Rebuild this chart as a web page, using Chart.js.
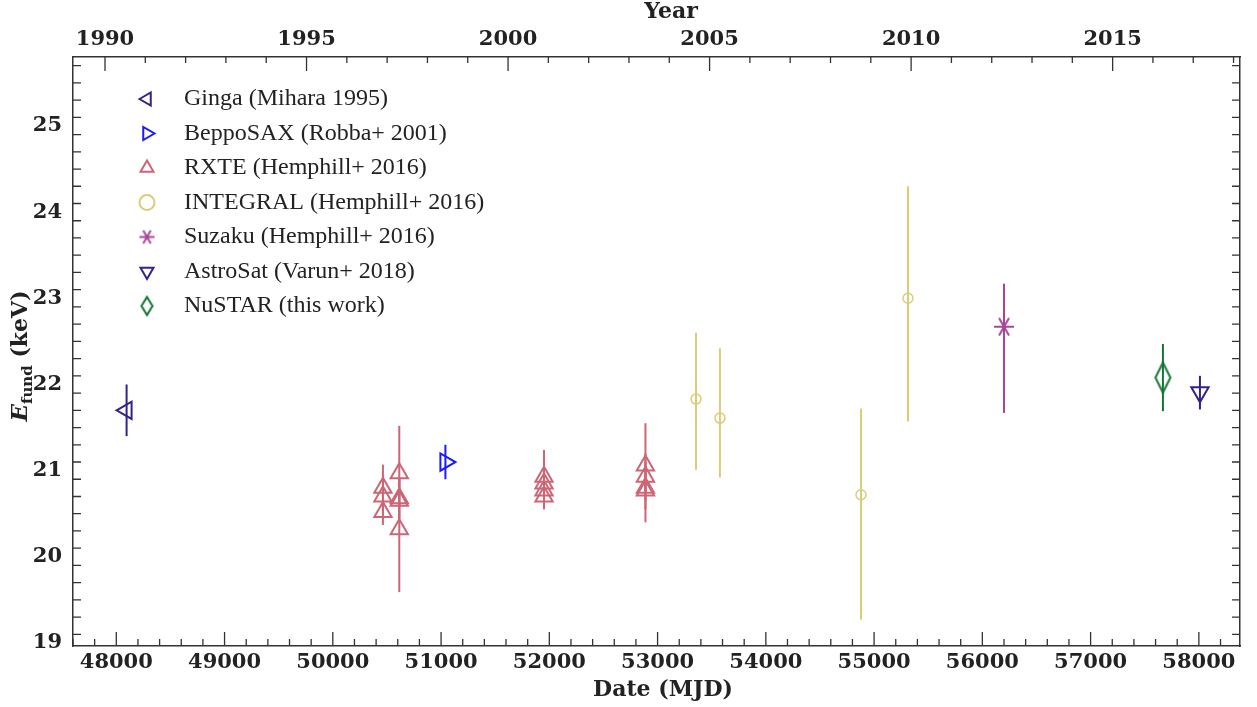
<!DOCTYPE html>
<html>
<head>
<meta charset="utf-8">
<title>Cyclotron line energy vs time</title>
<script src="https://cdn.jsdelivr.net/npm/chart.js@4.4.1/dist/chart.umd.min.js"></script>
<style>
  html, body { margin: 0; padding: 0; background: #fff; }
  canvas { display: block; }
</style>
</head>
<body>
<canvas id="efundChart" width="1257" height="707"></canvas>
<script>
// Values: MJD, E_fund (keV), lower / upper end of the error bar (keV)
const gingaMjd = [48095];
const gingaE   = [21.70];
const gingaLo  = [21.40];
const gingaHi  = [22.00];

const beppoMjd = [51040];
const beppoE   = [21.10];
const beppoLo  = [20.90];
const beppoHi  = [21.30];

const rxteMjd = [50463, 50463, 50463, 50614, 50614, 50614, 50614, 51951, 51951, 51951, 51951, 52888, 52888, 52888, 52888];
const rxteE   = [20.80, 20.70, 20.52, 20.97, 20.68, 20.65, 20.32, 20.93, 20.85, 20.77, 20.70, 21.06, 20.93, 20.80, 20.77];
const rxteLo  = [20.55, 20.50, 20.37, 20.60, 20.45, 20.40, 19.59, 20.70, 20.65, 20.58, 20.55, 20.75, 20.65, 20.55, 20.40];
const rxteHi  = [21.07, 20.90, 20.67, 21.52, 20.91, 20.90, 20.90, 21.24, 21.05, 20.96, 20.85, 21.55, 21.20, 21.05, 21.10];

const integralMjd = [53355, 53576, 54879, 55313];
const integralE   = [21.83, 21.61, 20.72, 23.00];
const integralLo  = [21.01, 20.92, 19.27, 21.57];
const integralHi  = [22.60, 22.42, 21.72, 24.30];

const suzakuMjd = [56200];
const suzakuE   = [22.67];
const suzakuLo  = [21.67];
const suzakuHi  = [23.17];

const astrosatMjd = [58010];
const astrosatE   = [21.91];
const astrosatLo  = [21.71];
const astrosatHi  = [22.10];

const nustarMjd = [57668];
const nustarE   = [22.08];
const nustarLo  = [21.69];
const nustarHi  = [22.47];

const seriesLabels = [
    'Ginga (Mihara 1995)',
    'BeppoSAX (Robba+ 2001)',
    'RXTE (Hemphill+ 2016)',
    'INTEGRAL (Hemphill+ 2016)',
    'Suzaku (Hemphill+ 2016)',
    'AstroSat (Varun+ 2018)',
    'NuSTAR (this work)'
];

// axis ticks
const mjdTicks = [48000, 49000, 50000, 51000, 52000, 53000, 54000, 55000, 56000, 57000, 58000];
const yearTicks = [1990, 1995, 2000, 2005, 2010, 2015];
const energyTicks = [19, 20, 21, 22, 23, 24, 25];

const MJD_MIN = 47600, MJD_MAX = 58380;
const E_MIN = 18.965, E_MAX = 25.8;
// the top (year) axis
const YEAR_MIN = 1989.206, YEAR_MAX = 2018.16;

const colors = {
    ginga: '#332288',
    beppo: '#1a1aff',
    rxte: '#cc6677',
    integral: '#ddcc77',
    suzaku: '#aa4499',
    astrosat: '#332288',
    nustar: '#117733'
};

function makePoints(mjd, e, lo, hi) {
    return mjd.map((m, i) => ({ x: m, y: e[i], lo: lo[i], hi: hi[i] }));
}

// custom marker shapes
function diamondMarker(w, h, color) {
    const c = document.createElement('canvas');
    c.width = w + 4; c.height = h + 4;
    const g = c.getContext('2d');
    g.strokeStyle = color; g.lineWidth = 2;
    g.beginPath();
    g.moveTo(c.width / 2, 2);
    g.lineTo(c.width - 2, c.height / 2);
    g.lineTo(c.width / 2, c.height - 2);
    g.lineTo(2, c.height / 2);
    g.closePath();
    g.stroke();
    return c;
}

function asteriskMarker(r, color) {
    const c = document.createElement('canvas');
    c.width = c.height = 2 * r + 4;
    const g = c.getContext('2d');
    const m = c.width / 2;
    g.strokeStyle = color; g.lineWidth = 2;
    g.beginPath();
    for (let k = 0; k < 3; k++) {
        const a = k * Math.PI / 3;
        g.moveTo(m - r * Math.cos(a), m - r * Math.sin(a));
        g.lineTo(m + r * Math.cos(a), m + r * Math.sin(a));
    }
    g.stroke();
    return c;
}

const datasets = [
    {
        label: seriesLabels[0], data: makePoints(gingaMjd, gingaE, gingaLo, gingaHi),
        borderColor: colors.ginga, pointStyle: 'triangle', pointRotation: -90, pointRadius: 10,
        legendStyle: 'triangle', legendRadius: 7.5
    },
    {
        label: seriesLabels[1], data: makePoints(beppoMjd, beppoE, beppoLo, beppoHi),
        borderColor: colors.beppo, pointStyle: 'triangle', pointRotation: 90, pointRadius: 10,
        legendStyle: 'triangle', legendRadius: 7.5
    },
    {
        label: seriesLabels[2], data: makePoints(rxteMjd, rxteE, rxteLo, rxteHi),
        borderColor: colors.rxte, pointStyle: 'triangle', pointRotation: 0, pointRadius: 10,
        legendStyle: 'triangle', legendRadius: 7.5
    },
    {
        label: seriesLabels[3], data: makePoints(integralMjd, integralE, integralLo, integralHi),
        borderColor: colors.integral, pointStyle: 'circle', pointRotation: 0, pointRadius: 5,
        pointBorderWidth: 1.5, legendStyle: 'circle', legendRadius: 7.5
    },
    {
        label: seriesLabels[4], data: makePoints(suzakuMjd, suzakuE, suzakuLo, suzakuHi),
        borderColor: colors.suzaku, pointStyle: asteriskMarker(10, colors.suzaku), pointRotation: 0, pointRadius: 10,
        legendStyle: asteriskMarker(7.5, colors.suzaku), legendRadius: 7
    },
    {
        label: seriesLabels[5], data: makePoints(astrosatMjd, astrosatE, astrosatLo, astrosatHi),
        borderColor: colors.astrosat, pointStyle: 'triangle', pointRotation: 180, pointRadius: 10,
        legendStyle: 'triangle', legendRadius: 7.5
    },
    {
        label: seriesLabels[6], data: makePoints(nustarMjd, nustarE, nustarLo, nustarHi),
        borderColor: colors.nustar, pointStyle: diamondMarker(15, 30, colors.nustar), pointRotation: 0, pointRadius: 12,
        legendStyle: diamondMarker(11, 18, colors.nustar), legendRadius: 8
    }
];
datasets.forEach(ds => {
    ds.backgroundColor = 'rgba(0,0,0,0)';
    if (ds.pointBorderWidth === undefined) ds.pointBorderWidth = 2;
});

// vertical error bars, drawn under the markers
const errorBars = {
    id: 'errorBars',
    beforeDatasetsDraw(chart) {
        const ctx = chart.ctx, xs = chart.scales.x, ys = chart.scales.y;
        ctx.save();
        ctx.lineWidth = 2;
        chart.data.datasets.forEach(ds => {
            ctx.strokeStyle = ds.borderColor;
            ds.data.forEach(p => {
                const px = xs.getPixelForValue(p.x);
                ctx.beginPath();
                ctx.moveTo(px, ys.getPixelForValue(p.lo));
                ctx.lineTo(px, ys.getPixelForValue(p.hi));
                ctx.stroke();
            });
        });
        ctx.restore();
    }
};

// inward tick marks on all four sides
const innerTicks = {
    id: 'innerTicks',
    afterDraw(chart) {
        const ctx = chart.ctx, a = chart.chartArea;
        const xs = chart.scales.x, ys = chart.scales.y, yr = chart.scales.year;
        ctx.save();
        ctx.strokeStyle = '#333';
        ctx.lineWidth = 1.3;
        ctx.beginPath();
        for (let m = 47600; m <= MJD_MAX; m += 200) {
            const px = xs.getPixelForValue(m);
            const len = m % 1000 === 0 ? 14 : 7;
            ctx.moveTo(px, a.bottom); ctx.lineTo(px, a.bottom - len);
        }
        for (let y = 1990; y <= 2018; y++) {
            const px = yr.getPixelForValue(y);
            const len = y % 5 === 0 ? 14 : 6;
            ctx.moveTo(px, a.top); ctx.lineTo(px, a.top + len);
        }
        for (let k = 95; k <= 258; k += 2) {
            const e = k / 10;
            if (e < E_MIN || e > E_MAX) continue;
            const py = ys.getPixelForValue(e);
            const len = k % 10 === 0 ? 14 : 8;
            ctx.moveTo(a.left, py); ctx.lineTo(a.left + len, py);
            ctx.moveTo(a.right, py); ctx.lineTo(a.right - len, py);
        }
        ctx.stroke();
        ctx.restore();
    }
};

// axis titles (y one has a subscript)
const axisTitles = {
    id: 'axisTitles',
    afterDraw(chart) {
        const ctx = chart.ctx;
        ctx.save();
        ctx.fillStyle = '#222';
        ctx.textAlign = 'center';
        ctx.textBaseline = 'middle';
        ctx.font = 'bold 22px "DejaVu Serif"';
        ctx.fillText('Year', 671, 12);
        ctx.fillText('Date (MJD)', 663, 690);

        const parts = [
            { t: 'E', f: 'italic bold 23px "DejaVu Serif"', dy: 0 },
            { t: 'fund', f: 'bold 15px "DejaVu Serif"', dy: 5 },
            { t: ' (keV)', f: 'bold 22px "DejaVu Serif"', dy: 0 }
        ];
        let total = 0;
        parts.forEach(p => { ctx.font = p.f; p.w = ctx.measureText(p.t).width; total += p.w; });
        ctx.translate(27, 356);
        ctx.rotate(-Math.PI / 2);
        ctx.textAlign = 'left';
        ctx.textBaseline = 'alphabetic';
        let x = -total / 2;
        parts.forEach(p => { ctx.font = p.f; ctx.fillText(p.t, x, p.dy); x += p.w; });
        ctx.restore();
    }
};

// legend in the upper-left corner of the plot
const legendBox = {
    id: 'legendBox',
    afterDraw(chart) {
        const ctx = chart.ctx;
        ctx.save();
        ctx.textBaseline = 'middle';
        chart.data.datasets.forEach((ds, i) => {
            const y = 99 + i * 34.5;
            ctx.strokeStyle = ds.borderColor;
            ctx.fillStyle = 'rgba(0,0,0,0)';
            ctx.lineWidth = 2;
            Chart.helpers.drawPoint(ctx, {
                pointStyle: ds.legendStyle, radius: ds.legendRadius,
                rotation: ds.pointRotation || 0, borderWidth: ds.pointBorderWidth
            }, 147, y);
            ctx.font = '24px "Liberation Serif"';
            ctx.fillStyle = '#222';
            ctx.fillText(ds.label, 184, y);
        });
        ctx.restore();
    }
};

const tickFont = { family: 'DejaVu Serif', size: 21, weight: 'bold' };

new Chart(document.getElementById('efundChart'), {
    type: 'scatter',
    data: { datasets: datasets },
    options: {
        responsive: false,
        animation: false,
        events: [],
        layout: { padding: 0 },
        plugins: { legend: { display: false }, tooltip: { enabled: false } },
        scales: {
            x: {
                type: 'linear', position: 'bottom', min: MJD_MIN, max: MJD_MAX,
                afterBuildTicks: s => { s.ticks = mjdTicks.map(v => ({ value: v })); },
                afterFit: s => { s.height = 61; },
                grid: { display: false, drawTicks: false },
                border: { display: true, color: '#333', width: 1.5 },
                ticks: { font: tickFont, color: '#222', padding: 4, maxRotation: 0, autoSkip: false, callback: v => String(v) }
            },
            year: {
                type: 'linear', axis: 'x', position: 'top', min: YEAR_MIN, max: YEAR_MAX,
                afterBuildTicks: s => { s.ticks = yearTicks.map(v => ({ value: v })); },
                afterFit: s => { s.height = 57; },
                grid: { display: false, drawTicks: false },
                border: { display: true, color: '#333', width: 1.5 },
                ticks: { font: tickFont, color: '#222', padding: 5, maxRotation: 0, autoSkip: false, callback: v => String(v) }
            },
            y: {
                type: 'linear', position: 'left', min: E_MIN, max: E_MAX,
                afterBuildTicks: s => { s.ticks = energyTicks.map(v => ({ value: v })); },
                afterFit: s => { s.width = 73; },
                grid: { display: false, drawTicks: false },
                border: { display: true, color: '#333', width: 1.5 },
                ticks: { font: tickFont, color: '#222', padding: 11, autoSkip: false, callback: v => String(v) }
            },
            yRight: {
                type: 'linear', axis: 'y', position: 'right', min: E_MIN, max: E_MAX,
                afterFit: s => { s.width = 17; },
                grid: { display: false, drawTicks: false },
                border: { display: true, color: '#333', width: 1.5 },
                ticks: { display: false }
            }
        }
    },
    plugins: [errorBars, innerTicks, axisTitles, legendBox]
});
</script>
</body>
</html>
